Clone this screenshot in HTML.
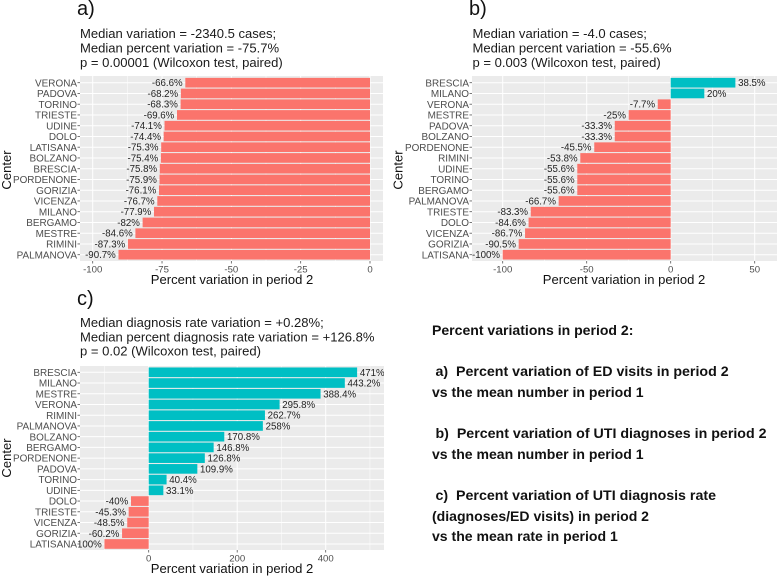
<!DOCTYPE html>
<html lang="en">
<head>
<meta charset="utf-8">
<title>Percent variations in period 2</title>
<style>
html,body{margin:0;padding:0;background:#fff;width:777px;height:577px;overflow:hidden}
svg{display:block;font-family:"Liberation Sans",sans-serif;filter:blur(0.3px)}
text{white-space:pre}
.h{font-size:13.05px;fill:#1a1a1a}
.p{font-size:20px;fill:#111}
.n{font-size:14.05px;font-weight:bold;fill:#111}
.nl{font-size:14.22px}
.at{font-size:13.05px;fill:#111}
.tk{font-size:9.6px;fill:#4d4d4d}
.cat{font-size:9.95px;fill:#4d4d4d}
.val{font-size:9.7px;fill:#1f1f1f}
</style>
</head>
<body>
<svg id="fig" xmlns="http://www.w3.org/2000/svg" width="777" height="577" viewBox="0 0 777 577">
  <g>
    <text class="p" x="77" y="15">a)</text>
    <text class="h" x="80" y="38">Median variation = -2340.5 cases;</text>
    <text class="h" x="80" y="52.5">Median percent variation = -75.7%</text>
    <text class="h" x="80" y="67">p = 0.00001 (Wilcoxon test, paired)</text>
  </g>
  <g>
    <text class="p" x="469" y="15">b)</text>
    <text class="h" x="472.5" y="38">Median variation = -4.0 cases;</text>
    <text class="h" x="472.5" y="52.5">Median percent variation = -55.6%</text>
    <text class="h" x="472.5" y="67">p = 0.003 (Wilcoxon test, paired)</text>
  </g>
  <g>
    <text class="p" x="77" y="305">c)</text>
    <text class="h" x="80" y="327">Median diagnosis rate variation = +0.28%;</text>
    <text class="h" x="80" y="341.5">Median percent diagnosis rate variation = +126.8%</text>
    <text class="h" x="80" y="355.5">p = 0.02 (Wilcoxon test, paired)</text>
  </g>
  <g>
    <text class="n" x="432" y="335">Percent variations in period 2:</text>
    <text class="n nl" x="435.5" y="376">a)  Percent variation of ED visits in period 2</text>
    <text class="n" x="432" y="397">vs the mean number in period 1</text>
    <text class="n nl" x="435.5" y="438">b)  Percent variation of UTI diagnoses in period 2</text>
    <text class="n" x="432" y="459">vs the mean number in period 1</text>
    <text class="n nl" x="435.5" y="500">c)  Percent variation of UTI diagnosis rate</text>
    <text class="n" x="432" y="521">(diagnoses/ED visits) in period 2</text>
    <text class="n" x="432" y="541">vs the mean rate in period 1</text>
  </g>
</svg>
<script>
const centersA = ["VERONA","PADOVA","TORINO","TRIESTE","UDINE","DOLO","LATISANA","BOLZANO","BRESCIA","PORDENONE","GORIZIA","VICENZA","MILANO","BERGAMO","MESTRE","RIMINI","PALMANOVA"];
const valuesA = [-66.6,-68.2,-68.3,-69.6,-74.1,-74.4,-75.3,-75.4,-75.8,-75.9,-76.1,-76.7,-77.9,-82,-84.6,-87.3,-90.7];
const ticksA = [-100,-75,-50,-25,0];

const centersB = ["BRESCIA","MILANO","VERONA","MESTRE","PADOVA","BOLZANO","PORDENONE","RIMINI","UDINE","TORINO","BERGAMO","PALMANOVA","TRIESTE","DOLO","VICENZA","GORIZIA","LATISANA"];
const valuesB = [38.5,20,-7.7,-25,-33.3,-33.3,-45.5,-53.8,-55.6,-55.6,-55.6,-66.7,-83.3,-84.6,-86.7,-90.5,-100];
const ticksB = [-100,-50,0,50];

const centersC = ["BRESCIA","MILANO","MESTRE","VERONA","RIMINI","PALMANOVA","BOLZANO","BERGAMO","PORDENONE","PADOVA","TORINO","UDINE","DOLO","TRIESTE","VICENZA","GORIZIA","LATISANA"];
const valuesC = [471,443.2,388.4,295.8,262.7,258,170.8,146.8,126.8,109.9,40.4,33.1,-40,-45.3,-48.5,-60.2,-100];
const ticksC = [0,200,400];

const NS = "http://www.w3.org/2000/svg";
const fig = document.getElementById("fig");

function mk(parent, tag, attrs, txt) {
  const el = document.createElementNS(NS, tag);
  for (const k in attrs) el.setAttribute(k, attrs[k]);
  if (txt !== undefined) el.textContent = txt;
  parent.appendChild(el);
  return el;
}

function drawPanel(id, cfg, cats, vals, ticks) {
  const g = mk(fig, "g", {});
  
  

  const xs = v => cfg.x0 + v * cfg.k;
  const ys = i => cfg.yFirst + i * cfg.step;

  const bg = mk(g, "rect", {x: cfg.left, y: cfg.top, width: cfg.right - cfg.left, height: cfg.bottom - cfg.top, fill: "#ebebeb"});
  
  

  const clipId = "clip-" + id;
  const defs = mk(g, "defs", {});
  const cp = mk(defs, "clipPath", {id: clipId});
  mk(cp, "rect", {x: cfg.left - 1.7, y: cfg.top, width: cfg.right - cfg.left + 1.7, height: cfg.bottom - cfg.top});

  const tickGap = ticks[1] - ticks[0];
  for (let t = ticks[0] - tickGap; t <= ticks[ticks.length - 1] + tickGap * 1.5; t += tickGap / 2) {
    const x = xs(t);
    if (x < cfg.left || x > cfg.right) continue;
    const major = ticks.indexOf(t) >= 0;
    const grid = mk(g, "line", {x1: x, x2: x, y1: cfg.top, y2: cfg.bottom, stroke: "#fff", "stroke-width": major ? 1 : 0.5});
    
    
  }

  cats.forEach((c, i) => {
    const y = ys(i);
    const grid = mk(g, "line", {x1: cfg.left, x2: cfg.right, y1: y, y2: y, stroke: "#fff", "stroke-width": 1});
    
    
  });

  vals.forEach((v, i) => {
    const y = ys(i);
    const bar = mk(g, "rect", {
      x: Math.min(xs(0), xs(v)), y: y - cfg.step * 0.45,
      width: Math.abs(xs(v) - xs(0)), height: cfg.step * 0.9,
      fill: v < 0 ? "#fb746c" : "#00bfc4"
    });
    
    
  });

  const labels = mk(g, "g", {"clip-path": "url(#" + clipId + ")"});
  
  
  vals.forEach((v, i) => {
    const t = mk(labels, "text", {
      class: "val",
      x: v < 0 ? xs(v) - 2.7 : xs(v) + 2.7,
      y: ys(i) + 3.5,
      "text-anchor": v < 0 ? "end" : "start"
    }, v + "%");
    
    
  });

  cats.forEach((c, i) => {
    const y = ys(i);
    const tick = mk(g, "line", {x1: cfg.left - 2.5, x2: cfg.left, y1: y, y2: y, stroke: "#555", "stroke-width": 0.8});
    
    
    const t = mk(g, "text", {class: "cat", x: cfg.left - 3, y: y + 3.6, "text-anchor": "end"}, c);
    
    
  });

  ticks.forEach(v => {
    const x = xs(v);
    const tick = mk(g, "line", {x1: x, x2: x, y1: cfg.bottom, y2: cfg.bottom + 2.5, stroke: "#555", "stroke-width": 0.8});
    
    
    const t = mk(g, "text", {class: "tk", x: x, y: cfg.bottom + 11.5, "text-anchor": "middle"}, String(v));
    
    
  });

  const xt = mk(g, "text", {class: "at", x: (cfg.left + cfg.right) / 2 + cfg.xTitleShift, y: cfg.bottom + 23, "text-anchor": "middle"}, "Percent variation in period 2");
  
  

  const yt = mk(g, "text", {class: "at", x: 0, y: 0, "text-anchor": "middle", transform: "translate(" + cfg.yTitleX + " " + cfg.yTitleY + ") rotate(-90)"}, "Center");
  
  
}

drawPanel("a", {left: 80, right: 383, top: 76, bottom: 261, x0: 370, k: 2.773, yFirst: 82.7, step: 10.75, xTitleShift: 0.5, yTitleX: 11, yTitleY: 170}, centersA, valuesA, ticksA);
drawPanel("b", {left: 472, right: 777, top: 76, bottom: 261, x0: 670.7, k: 1.68, yFirst: 82.7, step: 10.75, xTitleShift: -0.5, yTitleX: 402.5, yTitleY: 170}, centersB, valuesB, ticksB);
drawPanel("c", {left: 80, right: 384, top: 366, bottom: 550, x0: 148.7, k: 0.4425, yFirst: 372.3, step: 10.73, xTitleShift: 0, yTitleX: 11, yTitleY: 458}, centersC, valuesC, ticksC);
</script>
</body>
</html>
